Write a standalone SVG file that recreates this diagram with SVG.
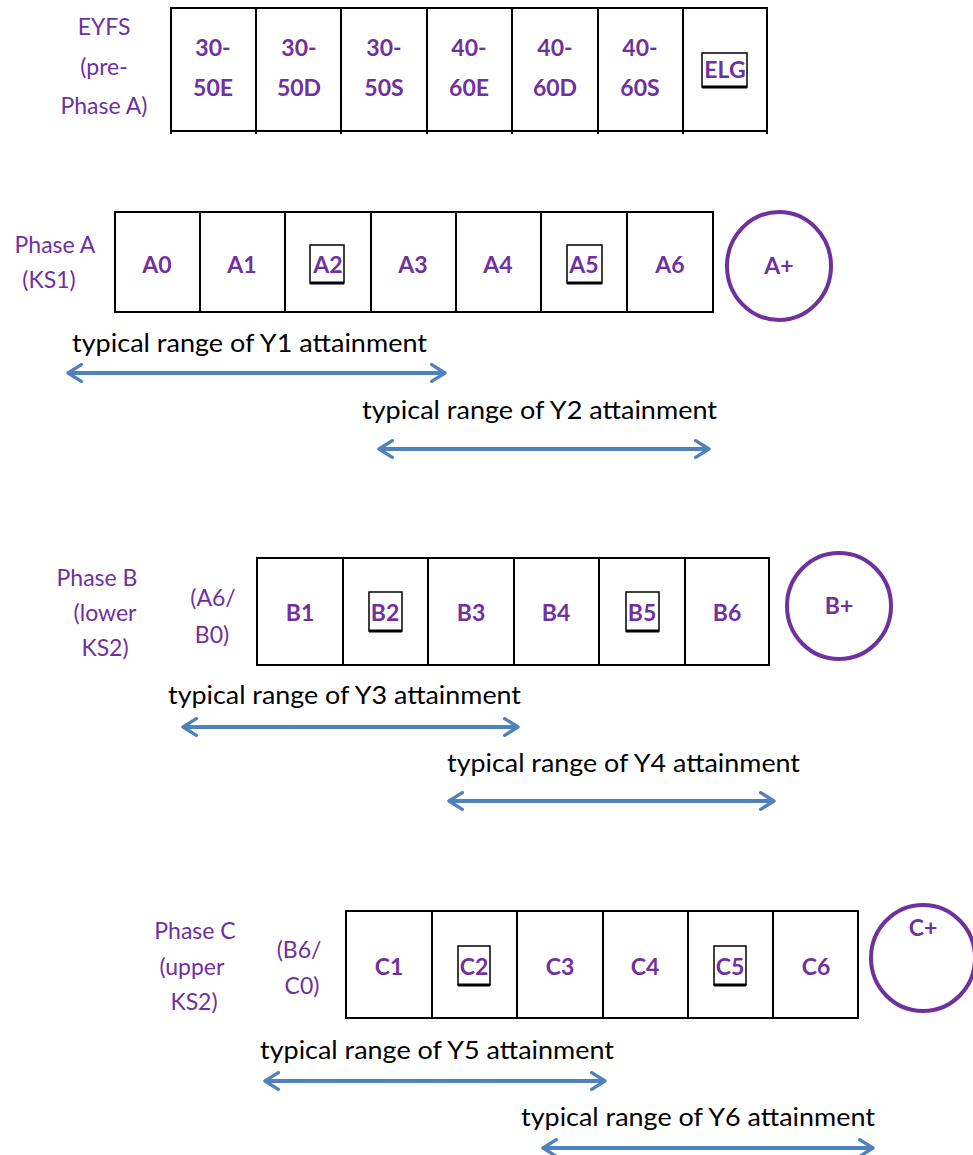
<svg xmlns="http://www.w3.org/2000/svg" width="973" height="1155" viewBox="0 0 973 1155">
<style>
.cell{fill:#fff;stroke:#000;stroke-width:2}
.ct{font-family:Lato,"Liberation Sans",Arial,sans-serif;font-size:23px;font-weight:bold;fill:#7030A0;text-anchor:middle}
.lb{font-family:Lato,"Liberation Sans",Arial,sans-serif;font-size:23px;fill:#7030A0;text-anchor:middle}
.rt{font-family:Lato,"Liberation Sans",Arial,sans-serif;font-size:25px;fill:#000}
.circ{fill:none;stroke:#7030A0;stroke-width:4}
.hl{fill:none;stroke:#000;stroke-width:1.5}
.hb{stroke:#000;stroke-width:3}
.arr{stroke:#4F81BD;stroke-width:4;fill:none;marker-start:url(#ah);marker-end:url(#ah)}
</style>
<defs>
<marker id="ah" viewBox="0 0 12 12" refX="10" refY="6" markerWidth="5" markerHeight="5" orient="auto-start-reverse" markerUnits="strokeWidth">
<polyline points="2,1 10,6 2,11" fill="none" stroke="#4F81BD" stroke-width="2" stroke-linecap="round" stroke-linejoin="round"/>
</marker>
</defs>

<g id="eyfs">
<text class="lb" x="104" y="35">EYFS</text>
<text class="lb" x="104" y="75">(pre-</text>
<text class="lb" x="104" y="114">Phase A)</text>
<rect class="cell" x="171" y="8" width="596" height="123"/>
<g stroke="#000" stroke-width="2">
<line x1="256" y1="8" x2="256" y2="134"/><line x1="341" y1="8" x2="341" y2="134"/><line x1="427" y1="8" x2="427" y2="134"/><line x1="512" y1="8" x2="512" y2="134"/><line x1="598" y1="8" x2="598" y2="134"/><line x1="683" y1="8" x2="683" y2="134"/><line x1="171" y1="8" x2="171" y2="134"/><line x1="767" y1="8" x2="767" y2="134"/>
</g>
<text class="ct" x="213" y="56">30-</text><text class="ct" x="213" y="96">50E</text>
<text class="ct" x="299" y="56">30-</text><text class="ct" x="299" y="96">50D</text>
<text class="ct" x="384" y="56">30-</text><text class="ct" x="384" y="96">50S</text>
<text class="ct" x="469" y="56">40-</text><text class="ct" x="469" y="96">60E</text>
<text class="ct" x="555" y="56">40-</text><text class="ct" x="555" y="96">60D</text>
<text class="ct" x="640" y="56">40-</text><text class="ct" x="640" y="96">60S</text>
<rect class="hl" x="702" y="53" width="45" height="34"/><line class="hb" x1="702" y1="87" x2="747" y2="87"/>
<text class="ct" x="725" y="78">ELG</text>
</g>

<g id="phaseA">
<text class="lb" x="55" y="253">Phase A</text>
<text class="lb" x="49" y="288">(KS1)</text>
<rect class="cell" x="115" y="212" width="598" height="100"/>
<g stroke="#000" stroke-width="2">
<line x1="200" y1="212" x2="200" y2="312"/><line x1="285" y1="212" x2="285" y2="312"/><line x1="371" y1="212" x2="371" y2="312"/><line x1="456" y1="212" x2="456" y2="312"/><line x1="541" y1="212" x2="541" y2="312"/><line x1="627" y1="212" x2="627" y2="312"/>
</g>
<text class="ct" x="157" y="273">A0</text>
<text class="ct" x="242" y="273">A1</text>
<rect class="hl" x="310" y="245" width="34" height="38"/><line class="hb" x1="310" y1="283" x2="344" y2="283"/>
<text class="ct" x="328" y="273">A2</text>
<text class="ct" x="413" y="273">A3</text>
<text class="ct" x="498" y="273">A4</text>
<rect class="hl" x="567" y="245" width="35" height="38"/><line class="hb" x1="567" y1="283" x2="602" y2="283"/>
<text class="ct" x="584" y="273">A5</text>
<text class="ct" x="670" y="273">A6</text>
</g>
<g id="aplus">
<ellipse class="circ" cx="779" cy="266" rx="52" ry="54"/>
<text class="ct" x="779" y="274">A+</text>
</g>

<g id="phaseB">
<text class="lb" x="97" y="586">Phase B</text>
<text class="lb" x="105" y="621">(lower</text>
<text class="lb" x="105" y="656">KS2)</text>
<text class="lb" x="213" y="606">(A6/</text>
<text class="lb" x="212" y="643">B0)</text>
<rect class="cell" x="257" y="558" width="512" height="107"/>
<g stroke="#000" stroke-width="2">
<line x1="343" y1="558" x2="343" y2="665"/><line x1="428" y1="558" x2="428" y2="665"/><line x1="514" y1="558" x2="514" y2="665"/><line x1="599" y1="558" x2="599" y2="665"/><line x1="685" y1="558" x2="685" y2="665"/>
</g>
<text class="ct" x="300" y="621">B1</text>
<rect class="hl" x="369" y="592" width="33" height="39"/><line class="hb" x1="369" y1="631" x2="402" y2="631"/>
<text class="ct" x="385" y="621">B2</text>
<text class="ct" x="471" y="621">B3</text>
<text class="ct" x="556" y="621">B4</text>
<rect class="hl" x="626" y="592" width="33" height="39"/><line class="hb" x1="626" y1="631" x2="659" y2="631"/>
<text class="ct" x="642" y="621">B5</text>
<text class="ct" x="727" y="621">B6</text>
</g>
<g id="bplus">
<ellipse class="circ" cx="839" cy="606" rx="52" ry="53"/>
<text class="ct" x="839" y="614">B+</text>
</g>

<g id="phaseC">
<text class="lb" x="195" y="939">Phase C</text>
<text class="lb" x="192" y="975">(upper</text>
<text class="lb" x="194" y="1010">KS2)</text>
<text class="lb" x="299" y="958">(B6/</text>
<text class="lb" x="302" y="994">C0)</text>
<rect class="cell" x="346" y="911" width="512" height="107"/>
<g stroke="#000" stroke-width="2">
<line x1="432" y1="911" x2="432" y2="1018"/><line x1="517" y1="911" x2="517" y2="1018"/><line x1="603" y1="911" x2="603" y2="1018"/><line x1="688" y1="911" x2="688" y2="1018"/><line x1="773" y1="911" x2="773" y2="1018"/>
</g>
<text class="ct" x="389" y="975">C1</text>
<rect class="hl" x="458" y="946" width="32" height="39"/><line class="hb" x1="458" y1="985" x2="490" y2="985"/>
<text class="ct" x="474" y="975">C2</text>
<text class="ct" x="560" y="975">C3</text>
<text class="ct" x="645" y="975">C4</text>
<rect class="hl" x="714" y="946" width="32" height="39"/><line class="hb" x1="714" y1="985" x2="746" y2="985"/>
<text class="ct" x="730" y="975">C5</text>
<text class="ct" x="816" y="975">C6</text>
</g>
<g id="cplus">
<ellipse class="circ" cx="923" cy="958" rx="52" ry="53"/>
<text class="ct" x="923" y="936">C+</text>
</g>

<g id="ranges">
<text class="rt" x="72" y="352" textLength="355" lengthAdjust="spacingAndGlyphs">typical range of Y1 attainment</text>
<line class="arr" x1="68" y1="373" x2="445" y2="373"/>
<text class="rt" x="362" y="419" textLength="355" lengthAdjust="spacingAndGlyphs">typical range of Y2 attainment</text>
<line class="arr" x1="379" y1="449" x2="709" y2="449"/>
<text class="rt" x="168" y="704" textLength="353" lengthAdjust="spacingAndGlyphs">typical range of Y3 attainment</text>
<line class="arr" x1="183" y1="727" x2="518" y2="727"/>
<text class="rt" x="447" y="772" textLength="353" lengthAdjust="spacingAndGlyphs">typical range of Y4 attainment</text>
<line class="arr" x1="449" y1="801" x2="774" y2="801"/>
<text class="rt" x="260" y="1059" textLength="354" lengthAdjust="spacingAndGlyphs">typical range of Y5 attainment</text>
<line class="arr" x1="265" y1="1081" x2="605" y2="1081"/>
<text class="rt" x="521" y="1126" textLength="354" lengthAdjust="spacingAndGlyphs">typical range of Y6 attainment</text>
<line class="arr" x1="543" y1="1148" x2="873" y2="1148"/>
</g>
</svg>
